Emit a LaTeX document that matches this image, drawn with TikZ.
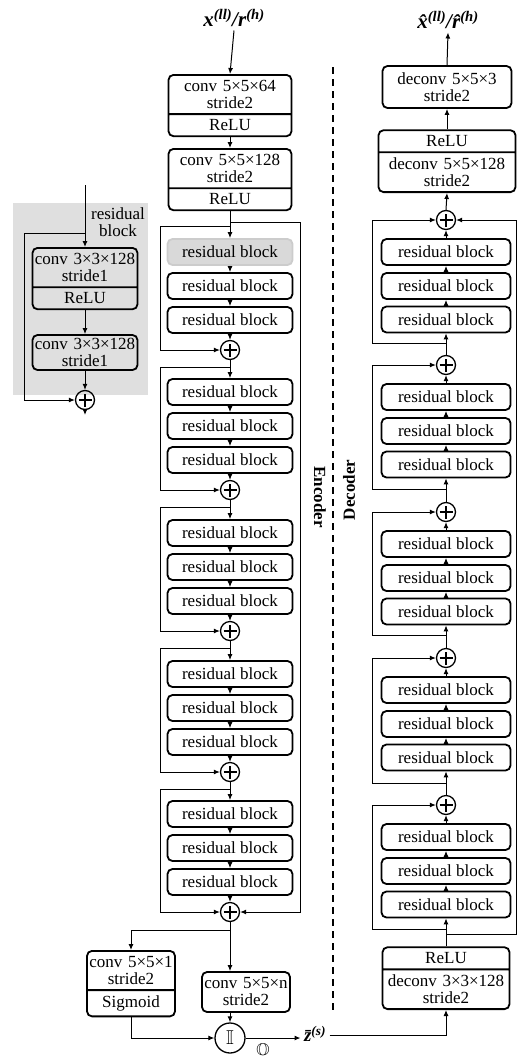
\documentclass[tikz,border=0pt]{standalone}
\usepackage{fontspec}
\setmainfont{Liberation Serif}
\usepackage{amssymb}
\usetikzlibrary{arrows.meta,shapes.multipart}

\begin{document}
\begin{tikzpicture}[x=1pt,y=-1pt,
  every node/.style={font=\fontsize{17}{17}\selectfont},
  >={Latex[length=6pt,width=5pt]},
  wire/.style={line width=1pt},
  blk/.style={draw,line width=1.8pt,rounded corners=5pt,minimum width=#1,minimum height=26pt,inner sep=0pt},
  blk/.default=125pt,
  gblk/.style={blk=125pt,draw=gray!40,fill=gray!30},
  twopart/.style={draw,line width=1.8pt,rounded corners=5pt,rectangle split,rectangle split parts=2,
    text width=#1,align=center,inner xsep=2pt,inner ysep=4.5pt},
  twoline/.style={draw,line width=1.8pt,rounded corners=5pt,text width=#1,align=center,inner xsep=1pt,inner ysep=2pt},
  add/.style={circle,draw,line width=1.3pt,minimum size=19pt,inner sep=0pt,
    path picture={\draw[line width=1.1pt]
      ([xshift=-6.5pt]path picture bounding box.center) -- ([xshift=6.5pt]path picture bounding box.center)
      ([yshift=-6.5pt]path picture bounding box.center) -- ([yshift=6.5pt]path picture bounding box.center);}},
  lbl/.style={font=\fontsize{21}{21}\selectfont\bfseries\itshape},
]
\useasboundingbox (0,0) rectangle (519,1058);

% residual block detail
\fill[gray!25] (13,203) rectangle (148,395);
\coordinate (rin) at (85,185);
\node[twopart=101pt,anchor=north] (r1) at (85,247) {conv 3×3×128\\stride1 \nodepart{two} ReLU};
\node[twoline=103pt,minimum height=35pt] (r2) at (85,352.5) {conv 3×3×128\\stride1};
\node[add] (rp) at (85,400) {};
\coordinate (rout) at (85,415);
\coordinate (rsk) at (85,233);
\node[align=center] (rlab) at (118,222) {residual\\block};
\draw[wire,->] (rin) -- (r1.north);
\draw[wire,->] (r1.south) -- (r2.north);
\draw[wire,->] (r2.south) -- (rp.north);
\draw[wire,->] (rsk) -- ++(-61,0) |- (rp.west);
\draw[wire,->] (rp.south) -- (rout);

% encoder
\node[lbl] (xin) at (234,18) {x\textsuperscript{(ll)}/r\textsuperscript{(h)}};
\node[twopart=119pt,anchor=north] (e1) at (230,74) {conv 5×5×64\\stride2 \nodepart{two} ReLU};
\node[twopart=119pt,anchor=north] (e2) at (230,148) {conv 5×5×128\\stride2 \nodepart{two} ReLU};
\draw[wire,->] (xin.south) -- (e1.north);
\draw[wire,->] (e1.south) -- (e2.north);
\foreach \i/\y/\t/\p/\s in {1/350/226/e2/gblk, 2/490/367/ep1/blk, 3/631/507/ep2/blk,
                            4/772/648/ep3/blk, 5/912/789/ep4/blk}{
  \node[\s] (ea\i) at (230,\y-98) {residual block};
  \node[blk] (eb\i) at (230,\y-64) {residual block};
  \node[blk] (ec\i) at (230,\y-30) {residual block};
  \node[add] (ep\i) at (230,\y) {};
  \coordinate (et\i) at (230,\t);
  \draw[wire,->] (\p.south) -- (ea\i.north);
  \draw[wire,->] (ea\i.south) -- (eb\i.north);
  \draw[wire,->] (eb\i.south) -- (ec\i.north);
  \draw[wire,->] (ec\i.south) -- (ep\i.north);
  \draw[wire,->] (et\i) -- ++(-70,0) |- (ep\i.west);
}
\coordinate (eo) at (230,222);
\draw[wire,->] (eo) -- ++(70,0) |- (ep5.east);

% importance map and code
\coordinate (ebr) at (230,930);
\node[twopart=84pt,anchor=north] (sig) at (131,950) {conv 5×5×1\\stride2 \nodepart{two} Sigmoid};
\node[twoline=86pt,minimum height=40pt] (convn) at (246,992) {conv 5×5×n\\stride2};
\node[circle,draw,line width=1.3pt,minimum size=30pt,inner sep=0pt,font=\fontsize{20}{20}\selectfont] (cat) at (230,1038) {$\mathbb{I}$};
\node (olab) at (263,1051) {$\mathbb{O}$};
\node[font=\fontsize{19}{19}\selectfont\bfseries\itshape] (zs) at (315,1034) {\={z}\textsuperscript{(s)}};
\draw[wire,->] (ep5.south) -- (ep5 |- convn.north);
\draw[wire,->] (ebr) -| (sig.north);
\draw[wire,->] (convn.south -| cat) -- (cat.north);
\draw[wire,->] (sig.south) |- (cat.west);
\draw[wire,->] (cat.east) -- (cat.east -| zs.west);

% decoder
\node[twopart=123pt,anchor=south] (d0) at (446,1010) {ReLU \nodepart{two} deconv 3×3×128\\stride2};
\draw[wire,->] ([yshift=-1pt]zs.east) -| (d0.south);
\foreach \i/\y/\b/\p in {1/805/929/d0, 2/658/783/dp1, 3/512/635/dp2, 4/365/489/dp3, 5/220/343/dp4}{
  \node[blk=129pt] (da\i) at (446,\y+99.5) {residual block};
  \node[blk=129pt] (db\i) at (446,\y+66) {residual block};
  \node[blk=129pt] (dc\i) at (446,\y+32) {residual block};
  \node[add] (dp\i) at (446,\y) {};
  \coordinate (dt\i) at (446,\b);
  \draw[wire,->] (\p.north) -- (da\i.south);
  \draw[wire,->] (da\i.north) -- (db\i.south);
  \draw[wire,->] (db\i.north) -- (dc\i.south);
  \draw[wire,->] (dc\i.north) -- (dp\i.south);
  \draw[wire,->] (dt\i) -- ++(-74,0) |- (dp\i.west);
}
\coordinate (do) at (446,934);
\draw[wire,->] (do) -- ++(70,0) |- (dp5.east);
\node[twopart=133pt,anchor=south] (d6) at (447,193) {ReLU \nodepart{two} deconv 5×5×128\\stride2};
\node[twoline=127pt,minimum height=42pt] (d7) at (447,87) {deconv 5×5×3\\stride2};
\node[lbl] (xout) at (448,20) {\^{x}\textsuperscript{(ll)}/\^{r}\textsuperscript{(h)}};
\draw[wire,->] (dp5.north) -- (d6.south);
\draw[wire,->] (d6.north) -- (d7.south);
\draw[wire,->] (d7.north) -- (xout.south);

% split line
\draw[line width=1.3pt,dash pattern=on 7pt off 5pt] (333,67) -- (333,1013);
\node[rotate=-90,font=\fontsize{17}{17}\selectfont\bfseries] (enc) at (320,497) {Encoder};
\node[rotate=90,font=\fontsize{17}{17}\selectfont\bfseries] (dec) at (349,490) {Decoder};
\end{tikzpicture}
\end{document}
